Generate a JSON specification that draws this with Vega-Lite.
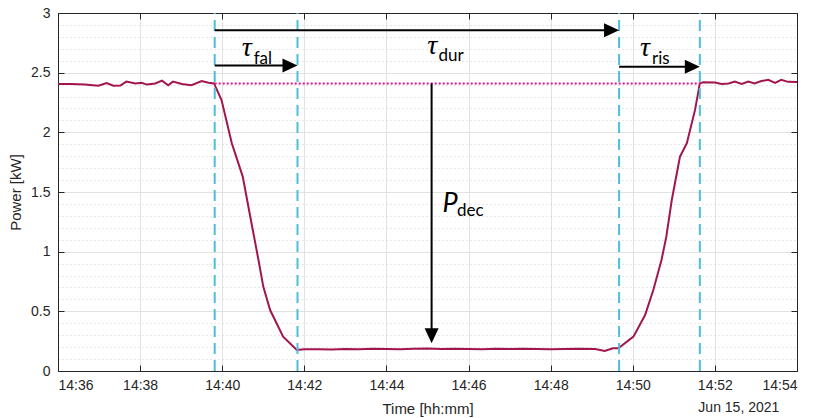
{
  "$schema": "https://vega.github.io/schema/vega-lite/v6.json",
  "width": 739,
  "height": 358,
  "autosize": {"type": "none"},
  "padding": {"left": 58, "top": 13, "right": 21, "bottom": 47},
  "background": "white",
  "config": {
    "view": {"stroke": null},
    "axis": {"labelFont": "Liberation Sans", "titleFont": "Liberation Sans", "labelColor": "#262626", "titleColor": "#262626", "titleFontWeight": "normal", "domainColor": "#262626", "tickColor": "#262626", "gridColor": "#E2E2E2"}
  },
  "datasets": {
    "power": [
      {"t": "2021-06-15T14:36:00", "p": 2.405},
      {"t": "2021-06-15T14:36:20", "p": 2.405},
      {"t": "2021-06-15T14:36:39", "p": 2.400},
      {"t": "2021-06-15T14:36:59", "p": 2.390},
      {"t": "2021-06-15T14:37:11", "p": 2.412},
      {"t": "2021-06-15T14:37:21", "p": 2.390},
      {"t": "2021-06-15T14:37:31", "p": 2.392},
      {"t": "2021-06-15T14:37:40", "p": 2.425},
      {"t": "2021-06-15T14:37:53", "p": 2.410},
      {"t": "2021-06-15T14:38:02", "p": 2.415},
      {"t": "2021-06-15T14:38:10", "p": 2.400},
      {"t": "2021-06-15T14:38:22", "p": 2.410},
      {"t": "2021-06-15T14:38:32", "p": 2.433},
      {"t": "2021-06-15T14:38:41", "p": 2.395},
      {"t": "2021-06-15T14:38:48", "p": 2.425},
      {"t": "2021-06-15T14:39:01", "p": 2.405},
      {"t": "2021-06-15T14:39:15", "p": 2.395},
      {"t": "2021-06-15T14:39:30", "p": 2.430},
      {"t": "2021-06-15T14:39:40", "p": 2.415},
      {"t": "2021-06-15T14:39:48", "p": 2.410},
      {"t": "2021-06-15T14:39:59", "p": 2.270},
      {"t": "2021-06-15T14:40:14", "p": 1.909},
      {"t": "2021-06-15T14:40:30", "p": 1.629},
      {"t": "2021-06-15T14:40:41", "p": 1.293},
      {"t": "2021-06-15T14:40:53", "p": 0.930},
      {"t": "2021-06-15T14:41:00", "p": 0.707},
      {"t": "2021-06-15T14:41:10", "p": 0.511},
      {"t": "2021-06-15T14:41:29", "p": 0.288},
      {"t": "2021-06-15T14:41:49", "p": 0.176},
      {"t": "2021-06-15T14:42:00", "p": 0.182},
      {"t": "2021-06-15T14:42:20", "p": 0.183},
      {"t": "2021-06-15T14:42:40", "p": 0.181},
      {"t": "2021-06-15T14:43:00", "p": 0.184},
      {"t": "2021-06-15T14:43:20", "p": 0.183},
      {"t": "2021-06-15T14:43:40", "p": 0.186},
      {"t": "2021-06-15T14:44:00", "p": 0.185},
      {"t": "2021-06-15T14:44:20", "p": 0.183},
      {"t": "2021-06-15T14:44:40", "p": 0.186},
      {"t": "2021-06-15T14:45:00", "p": 0.188},
      {"t": "2021-06-15T14:45:20", "p": 0.184},
      {"t": "2021-06-15T14:45:40", "p": 0.186},
      {"t": "2021-06-15T14:46:00", "p": 0.185},
      {"t": "2021-06-15T14:46:20", "p": 0.183},
      {"t": "2021-06-15T14:46:40", "p": 0.187},
      {"t": "2021-06-15T14:47:00", "p": 0.184},
      {"t": "2021-06-15T14:47:20", "p": 0.186},
      {"t": "2021-06-15T14:47:40", "p": 0.185},
      {"t": "2021-06-15T14:48:00", "p": 0.183},
      {"t": "2021-06-15T14:48:20", "p": 0.185},
      {"t": "2021-06-15T14:48:40", "p": 0.186},
      {"t": "2021-06-15T14:49:05", "p": 0.184},
      {"t": "2021-06-15T14:49:19", "p": 0.168},
      {"t": "2021-06-15T14:49:31", "p": 0.190},
      {"t": "2021-06-15T14:49:39", "p": 0.190},
      {"t": "2021-06-15T14:50:01", "p": 0.288},
      {"t": "2021-06-15T14:50:18", "p": 0.469},
      {"t": "2021-06-15T14:50:30", "p": 0.679},
      {"t": "2021-06-15T14:50:42", "p": 0.930},
      {"t": "2021-06-15T14:50:49", "p": 1.126},
      {"t": "2021-06-15T14:50:57", "p": 1.433},
      {"t": "2021-06-15T14:51:09", "p": 1.796},
      {"t": "2021-06-15T14:51:19", "p": 1.909},
      {"t": "2021-06-15T14:51:31", "p": 2.188},
      {"t": "2021-06-15T14:51:38", "p": 2.410},
      {"t": "2021-06-15T14:51:43", "p": 2.420},
      {"t": "2021-06-15T14:52:00", "p": 2.417},
      {"t": "2021-06-15T14:52:10", "p": 2.405},
      {"t": "2021-06-15T14:52:20", "p": 2.410},
      {"t": "2021-06-15T14:52:29", "p": 2.425},
      {"t": "2021-06-15T14:52:39", "p": 2.405},
      {"t": "2021-06-15T14:52:49", "p": 2.425},
      {"t": "2021-06-15T14:52:58", "p": 2.410},
      {"t": "2021-06-15T14:53:08", "p": 2.430},
      {"t": "2021-06-15T14:53:18", "p": 2.440},
      {"t": "2021-06-15T14:53:28", "p": 2.415},
      {"t": "2021-06-15T14:53:37", "p": 2.440},
      {"t": "2021-06-15T14:53:47", "p": 2.423},
      {"t": "2021-06-15T14:54:00", "p": 2.422}
    ],
    "events": [
      {"t": "2021-06-15T14:39:49"},
      {"t": "2021-06-15T14:41:50"},
      {"t": "2021-06-15T14:49:40"},
      {"t": "2021-06-15T14:51:38"}
    ],
    "ref": [
      {"t": "2021-06-15T14:39:49", "p": 2.41},
      {"t": "2021-06-15T14:51:38", "p": 2.41}
    ],
    "shafts": [
      {"name": "dur", "t": "2021-06-15T14:39:49", "t2": "2021-06-15T14:49:26", "p": 2.855, "p2": 2.855},
      {"name": "fal", "t": "2021-06-15T14:39:49", "t2": "2021-06-15T14:41:36", "p": 2.56, "p2": 2.56},
      {"name": "ris", "t": "2021-06-15T14:49:40", "t2": "2021-06-15T14:51:24", "p": 2.55, "p2": 2.55},
      {"name": "dec", "t": "2021-06-15T14:45:06", "t2": "2021-06-15T14:45:06", "p": 2.41, "p2": 0.32}
    ],
    "heads": [
      {"name": "dur", "t": "2021-06-15T14:49:40", "p": 2.855, "dir": "right"},
      {"name": "fal", "t": "2021-06-15T14:41:50", "p": 2.56, "dir": "right"},
      {"name": "ris", "t": "2021-06-15T14:51:38", "p": 2.55, "dir": "right"},
      {"name": "dec", "t": "2021-06-15T14:45:06", "p": 0.232, "dir": "down"}
    ],
    "labels": [
      {"kind": "tau", "t": "2021-06-15T14:40:36", "p": 2.64, "text": "τ"},
      {"kind": "sub", "t": "2021-06-15T14:40:46", "p": 2.575, "text": "fal"},
      {"kind": "tau", "t": "2021-06-15T14:45:07", "p": 2.66, "text": "τ"},
      {"kind": "sub", "t": "2021-06-15T14:45:16", "p": 2.597, "text": "dur"},
      {"kind": "tau", "t": "2021-06-15T14:50:18", "p": 2.64, "text": "τ"},
      {"kind": "sub", "t": "2021-06-15T14:50:28", "p": 2.575, "text": "ris"},
      {"kind": "P", "t": "2021-06-15T14:45:33", "p": 1.33, "text": "P"},
      {"kind": "sub", "t": "2021-06-15T14:45:43", "p": 1.30, "text": "dec"},
      {"kind": "date", "t": "2021-06-15T14:52:35", "p": -0.31, "text": "Jun 15, 2021"}
    ]
  },
  "resolve": {"axis": {"x": "independent", "y": "independent"}},
  "layer": [
    {
      "data": {"name": "power"},
      "mark": {"type": "line", "color": "#A3154F", "strokeWidth": 2, "clip": true},
      "encoding": {
        "x": {"field": "t", "type": "temporal",
          "scale": {"domain": [{"year": 2021, "month": 6, "date": 15, "hours": 14, "minutes": 36}, {"year": 2021, "month": 6, "date": 15, "hours": 14, "minutes": 54}]},
          "axis": {"orient": "bottom", "title": "Time [hh:mm]", "titleFontSize": 15, "titlePadding": 9, "format": "%H:%M", "labelFontSize": 14, "labelPadding": 13, "tickSize": -6, "grid": true, "domain": true,
            "values": [{"year": 2021, "month": 6, "date": 15, "hours": 14, "minutes": 36}, {"year": 2021, "month": 6, "date": 15, "hours": 14, "minutes": 38}, {"year": 2021, "month": 6, "date": 15, "hours": 14, "minutes": 40}, {"year": 2021, "month": 6, "date": 15, "hours": 14, "minutes": 42}, {"year": 2021, "month": 6, "date": 15, "hours": 14, "minutes": 44}, {"year": 2021, "month": 6, "date": 15, "hours": 14, "minutes": 46}, {"year": 2021, "month": 6, "date": 15, "hours": 14, "minutes": 48}, {"year": 2021, "month": 6, "date": 15, "hours": 14, "minutes": 50}, {"year": 2021, "month": 6, "date": 15, "hours": 14, "minutes": 52}, {"year": 2021, "month": 6, "date": 15, "hours": 14, "minutes": 54}]}},
        "y": {"field": "p", "type": "quantitative", "scale": {"domain": [0, 3], "nice": false},
          "axis": {"orient": "left", "title": "Power [kW]", "titleFontSize": 15, "titlePadding": 7, "format": "~g", "labelFontSize": 14, "labelPadding": 14, "tickSize": -6, "grid": true, "values": [0, 0.5, 1, 1.5, 2, 2.5, 3]}}
      }
    },
    {
      "data": {"name": "events"},
      "mark": {"type": "rule", "color": "#4DBFD8", "strokeWidth": 2, "strokeDash": [11, 6]},
      "encoding": {
        "x": {"field": "t", "type": "temporal",
          "axis": {"orient": "top", "title": null, "labels": false, "tickSize": -6, "grid": false, "domain": true,
            "values": [{"year": 2021, "month": 6, "date": 15, "hours": 14, "minutes": 36}, {"year": 2021, "month": 6, "date": 15, "hours": 14, "minutes": 38}, {"year": 2021, "month": 6, "date": 15, "hours": 14, "minutes": 40}, {"year": 2021, "month": 6, "date": 15, "hours": 14, "minutes": 42}, {"year": 2021, "month": 6, "date": 15, "hours": 14, "minutes": 44}, {"year": 2021, "month": 6, "date": 15, "hours": 14, "minutes": 46}, {"year": 2021, "month": 6, "date": 15, "hours": 14, "minutes": 48}, {"year": 2021, "month": 6, "date": 15, "hours": 14, "minutes": 50}, {"year": 2021, "month": 6, "date": 15, "hours": 14, "minutes": 52}, {"year": 2021, "month": 6, "date": 15, "hours": 14, "minutes": 54}]}},
        "y": {"datum": 0, "type": "quantitative", "scale": {"domain": [0, 3], "nice": false},
          "axis": {"orient": "left", "title": null, "labels": false, "ticks": false, "domain": false, "grid": true, "gridDash": [1, 3], "gridColor": "#CDCDCD",
            "values": [0.1, 0.2, 0.3, 0.4, 0.6, 0.7, 0.8, 0.9, 1.1, 1.2, 1.3, 1.4, 1.6, 1.7, 1.8, 1.9, 2.1, 2.2, 2.3, 2.4, 2.6, 2.7, 2.8, 2.9]}},
        "y2": {"datum": 3}
      }
    },
    {
      "data": {"name": "ref"},
      "mark": {"type": "line", "color": "#E0168A", "strokeWidth": 2, "strokeDash": [2, 2]},
      "encoding": {
        "x": {"field": "t", "type": "temporal", "axis": null},
        "y": {"field": "p", "type": "quantitative", "scale": {"domain": [0, 3], "nice": false},
          "axis": {"orient": "right", "title": null, "labels": false, "tickSize": -6, "grid": false, "domain": true, "values": [0, 0.5, 1, 1.5, 2, 2.5, 3]}}
      }
    },
    {
      "data": {"name": "shafts"},
      "mark": {"type": "rule", "color": "black", "strokeWidth": 2},
      "encoding": {
        "x": {"field": "t", "type": "temporal", "axis": null},
        "x2": {"field": "t2"},
        "y": {"field": "p", "type": "quantitative", "scale": {"domain": [0, 3], "nice": false}, "axis": null},
        "y2": {"field": "p2"}
      }
    },
    {
      "data": {"name": "heads"},
      "mark": {"type": "point", "filled": true, "color": "black", "opacity": 1, "size": 225, "strokeWidth": 0},
      "encoding": {
        "x": {"field": "t", "type": "temporal", "axis": null},
        "y": {"field": "p", "type": "quantitative", "scale": {"domain": [0, 3], "nice": false}, "axis": null},
        "shape": {"field": "dir", "type": "nominal", "legend": null,
          "scale": {"domain": ["right", "down"], "range": ["M-2,-0.933L0,0L-2,0.933Z", "M-0.933,-2L0,0L0.933,-2Z"]}}
      }
    },
    {
      "data": {"name": "labels"},
      "transform": [{"filter": "datum.kind === 'tau'"}],
      "mark": {"type": "text", "font": "Liberation Serif", "fontStyle": "italic", "fontSize": 28, "align": "center", "baseline": "alphabetic", "color": "black"},
      "encoding": {
        "x": {"field": "t", "type": "temporal", "axis": null},
        "y": {"field": "p", "type": "quantitative", "scale": {"domain": [0, 3], "nice": false}, "axis": null},
        "text": {"field": "text"}
      }
    },
    {
      "data": {"name": "labels"},
      "transform": [{"filter": "datum.kind === 'sub'"}],
      "mark": {"type": "text", "font": "Lato", "fontSize": 17, "align": "left", "baseline": "alphabetic", "color": "black"},
      "encoding": {
        "x": {"field": "t", "type": "temporal", "axis": null},
        "y": {"field": "p", "type": "quantitative", "scale": {"domain": [0, 3], "nice": false}, "axis": null},
        "text": {"field": "text"}
      }
    },
    {
      "data": {"name": "labels"},
      "transform": [{"filter": "datum.kind === 'P'"}],
      "mark": {"type": "text", "font": "Lato", "fontStyle": "italic", "fontSize": 27, "align": "center", "baseline": "alphabetic", "color": "black"},
      "encoding": {
        "x": {"field": "t", "type": "temporal", "axis": null},
        "y": {"field": "p", "type": "quantitative", "scale": {"domain": [0, 3], "nice": false}, "axis": null},
        "text": {"field": "text"}
      }
    },
    {
      "data": {"name": "labels"},
      "transform": [{"filter": "datum.kind === 'date'"}],
      "mark": {"type": "text", "font": "Liberation Sans", "fontSize": 14, "align": "center", "baseline": "middle", "color": "#262626", "clip": false},
      "encoding": {
        "x": {"field": "t", "type": "temporal", "axis": null},
        "y": {"field": "p", "type": "quantitative", "scale": {"domain": [0, 3], "nice": false}, "axis": null},
        "text": {"field": "text"}
      }
    }
  ]
}
